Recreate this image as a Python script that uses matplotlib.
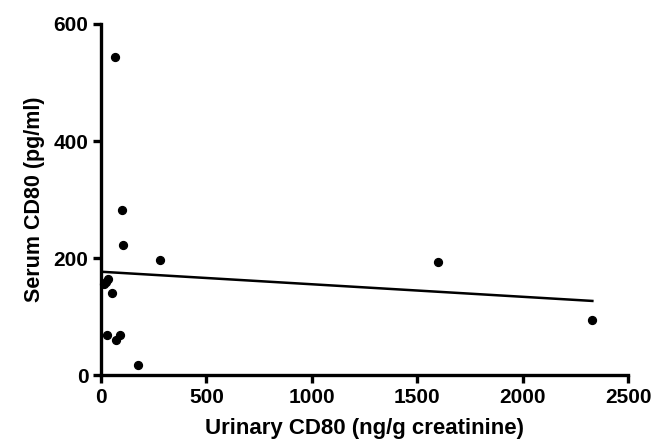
import numpy as np
import matplotlib
matplotlib.use("Agg")
import matplotlib.pyplot as plt

urinary = [66, 100, 104, 278, 1599, 2330, 177, 54, 30, 92, 71, 32, 22, 14]
serum = [544, 282, 223, 197, 193, 94, 17, 141, 68, 69, 60, 165, 160, 155]

plt.rcParams['font.family'] = ['Liberation Sans', 'DejaVu Sans']
plt.rcParams['font.weight'] = 'bold'

fig = plt.figure(figsize=(6.51, 4.44), dpi=100)
ax = fig.add_axes([0.155, 0.155, 0.81, 0.791])

x = np.array(urinary, dtype=float)
y = np.array(serum, dtype=float)
slope, intercept = np.polyfit(x, y, 1)
xs = np.array([0, x.max()])
ax.plot(xs, intercept + slope * xs, color='black', lw=1.8, zorder=2)
ax.scatter(x, y, s=32, color='black', zorder=3, clip_on=False)

ax.set_xlim(0, 2500)
ax.set_ylim(0, 600)
ax.set_xticks([0, 500, 1000, 1500, 2000, 2500])
ax.set_yticks([0, 200, 400, 600])
for s in ['top', 'right']:
    ax.spines[s].set_visible(False)
for s in ['left', 'bottom']:
    ax.spines[s].set_linewidth(2.4)
ax.tick_params(width=2.4, length=6, labelsize=15, direction='out', pad=3)
for lab in ax.get_xticklabels() + ax.get_yticklabels():
    lab.set_fontweight('bold')
ax.set_xlabel('Urinary CD80 (ng/g creatinine)', fontsize=16, fontweight='bold', labelpad=8)
ax.set_ylabel('Serum CD80 (pg/ml)', fontsize=15.5, fontweight='bold', labelpad=6)

fig.savefig('out.png', dpi=100)
